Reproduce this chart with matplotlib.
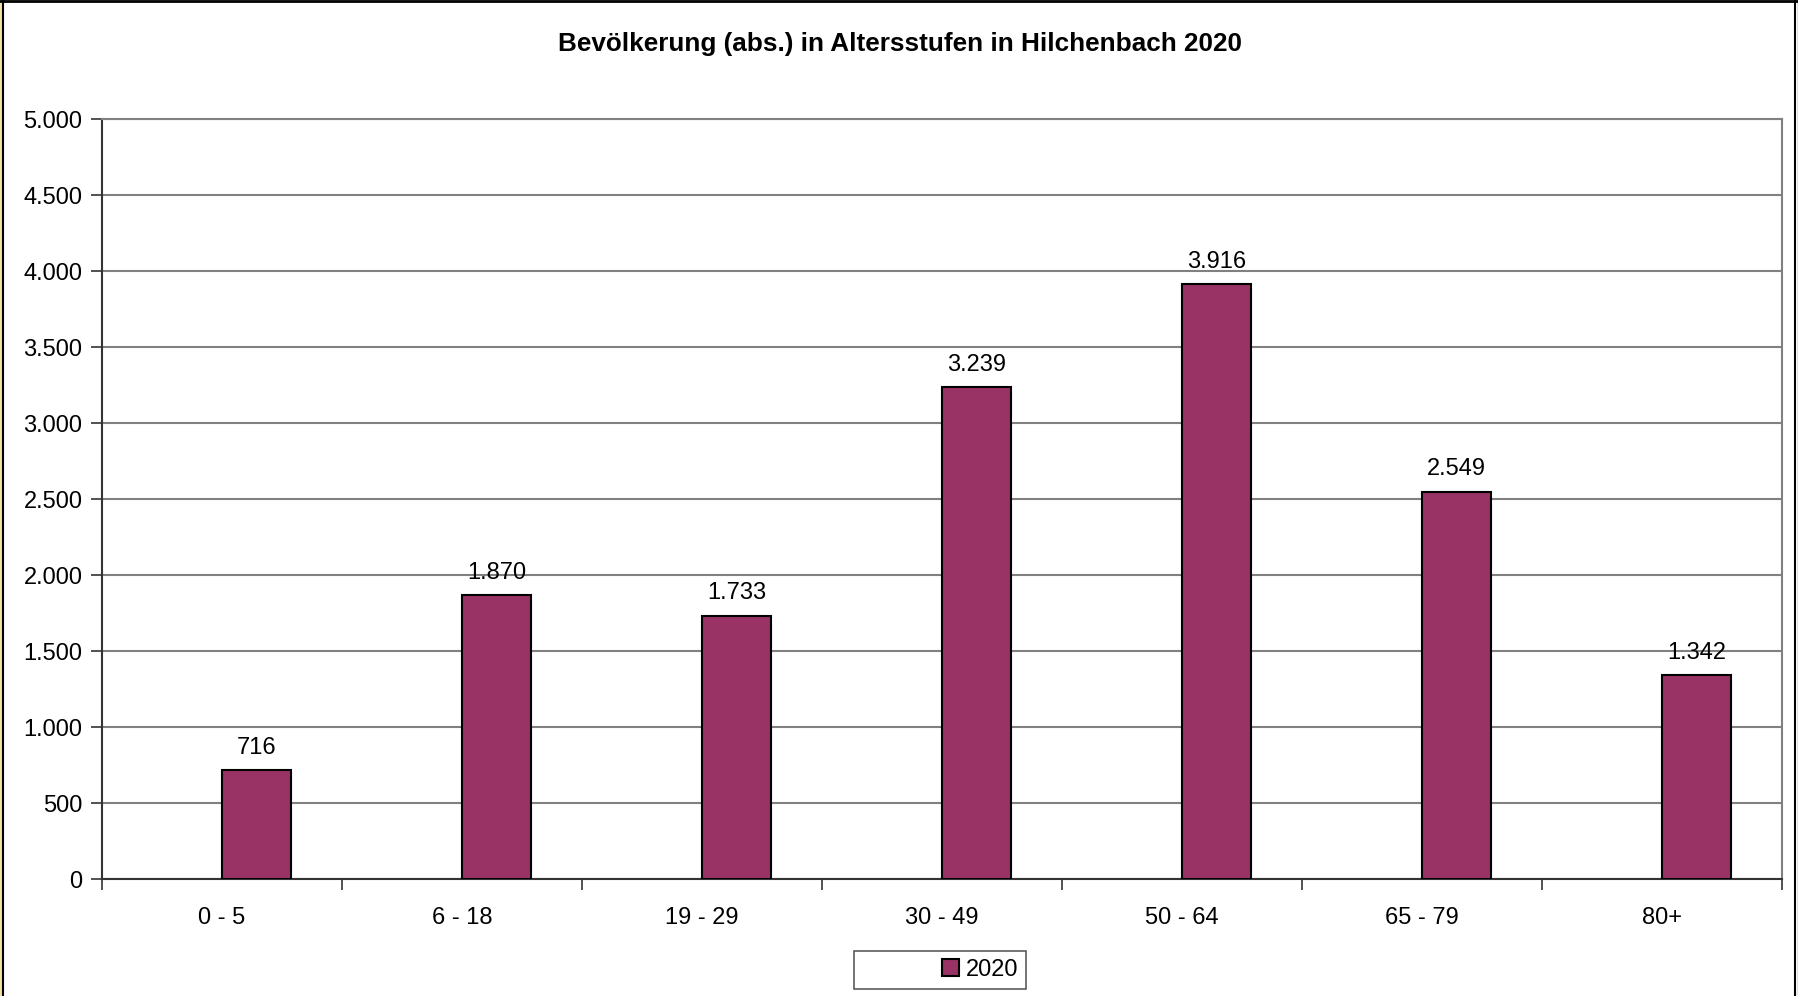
import matplotlib
matplotlib.use("Agg")
import matplotlib.pyplot as plt
import numpy as np
from matplotlib.patches import Rectangle, Patch
from matplotlib.ticker import FuncFormatter, MultipleLocator

categories = ["0 - 5", "6 - 18", "19 - 29", "30 - 49", "50 - 64", "65 - 79", "80+"]
values_2020 = [716, 1870, 1733, 3239, 3916, 2549, 1342]
series_name = "2020"
title = "Bevölkerung (abs.) in Altersstufen in Hilchenbach 2020"

W, H = 1799, 996
fig = plt.figure(figsize=(W / 100, H / 100), dpi=100)
plt.rcParams['font.family'] = ['Liberation Sans', 'DejaVu Sans']

# frame decorations
fig.patches.append(Rectangle((0, 0), 3 / W, 1, transform=fig.transFigure, facecolor="#f3e2a6", edgecolor="none"))
fig.patches.append(Rectangle(((W - 2) / W, 0), 2 / W, 1, transform=fig.transFigure, facecolor="#f3e2a6", edgecolor="none"))
fig.add_artist(plt.Line2D([3.5 / W, 3.5 / W], [0, 1], transform=fig.transFigure, color="black", lw=1.5))
fig.add_artist(plt.Line2D([(W - 3.5) / W, (W - 3.5) / W], [0, 1], transform=fig.transFigure, color="black", lw=1.5))
fig.add_artist(plt.Line2D([0, 1], [1 - 1 / H, 1 - 1 / H], transform=fig.transFigure, color="black", lw=2))

left, right, top, bottom = 102, 1782, 119, 879
ax = fig.add_axes([left / W, 1 - bottom / H, (right - left) / W, (bottom - top) / H])

x = np.arange(len(categories))
bw = 0.286
bars = ax.bar(x + 0.143, values_2020, width=bw, color="#993366", edgecolor="black", linewidth=1.5, zorder=3)

for xi, v in zip(x, values_2020):
    ax.annotate(f"{v:,}".replace(",", "."), (xi + 0.143, v), xytext=(0, 8), textcoords="offset points",
                ha="center", va="bottom", fontsize=17, color="black", zorder=4)

ax.set_xlim(-0.5, len(categories) - 0.5)
ax.set_ylim(0, 5000)
ax.yaxis.set_major_locator(MultipleLocator(500))
ax.yaxis.set_major_formatter(FuncFormatter(lambda v, p: f"{int(v):,}".replace(",", ".")))
ax.grid(axis="y", color="#808080", linewidth=1.5, zorder=1)
ax.set_axisbelow(True)

ax.set_xticks(np.arange(len(categories) + 1) - 0.5)
ax.set_xticklabels([])
ax.set_xticks(x, minor=True)
ax.set_xticklabels(categories, minor=True)
ax.tick_params(axis="x", which="major", length=8, width=1.2, color="#333333", direction="out")
ax.tick_params(axis="x", which="minor", length=0, labelsize=17, pad=20)
ax.tick_params(axis="y", length=8, width=1.2, color="#333333", direction="out", labelsize=17, pad=6)

for s in ["top", "right"]:
    ax.spines[s].set_color("#808080")
    ax.spines[s].set_linewidth(1.5)
for s in ["left", "bottom"]:
    ax.spines[s].set_color("#333333")
    ax.spines[s].set_linewidth(1.5)

fig.text(900 / W, 1 - 44 / H, title, ha="center", va="center", fontsize=18.8, fontweight="bold")

dummy = Patch(facecolor="none", edgecolor="none")
leg = fig.legend([dummy, bars], ["", series_name], loc="center", bbox_to_anchor=(940 / W, 1 - 970 / H),
                 ncol=2, fontsize=17, frameon=True, fancybox=False, edgecolor="#333333",
                 handlelength=0.7, handleheight=0.7, handletextpad=0.3, columnspacing=2.4, borderpad=0.35)
leg.get_frame().set_linewidth(1.2)

fig.savefig("out.png", dpi=100)
